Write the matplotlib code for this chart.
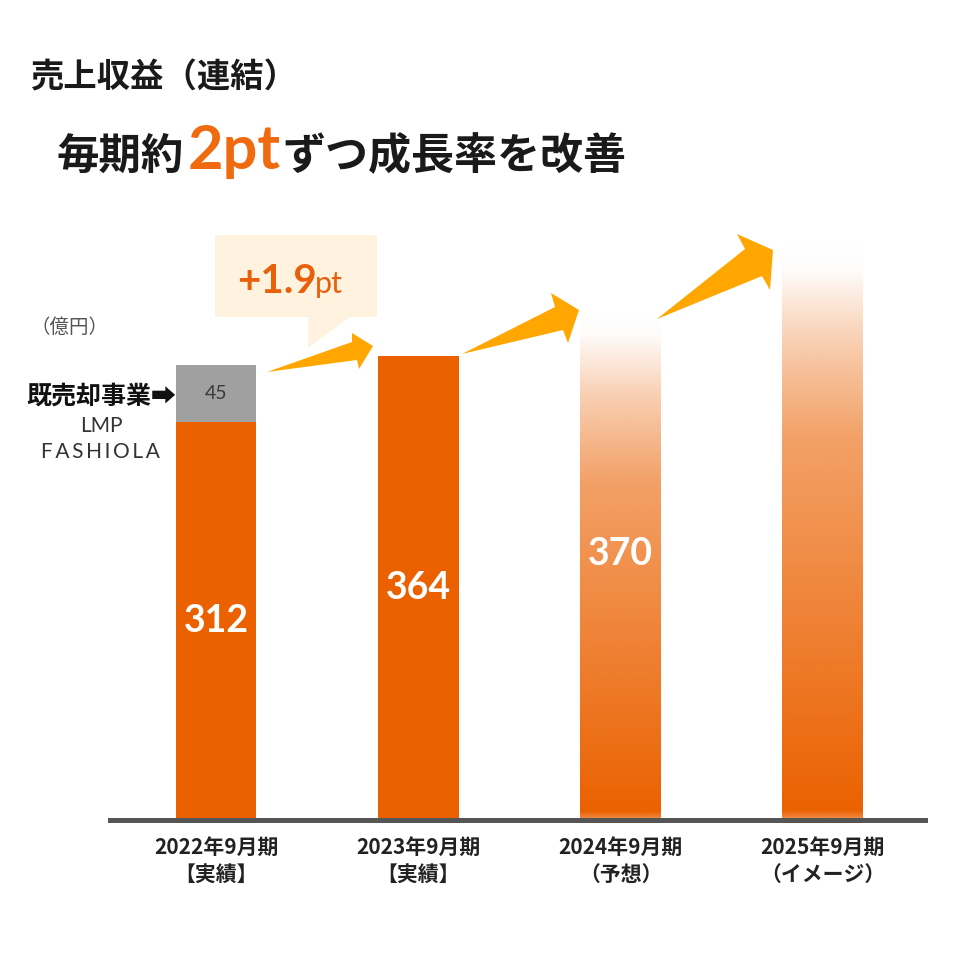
import numpy as np
import matplotlib.pyplot as plt
from matplotlib.patches import Polygon
from matplotlib.colors import to_rgb
from matplotlib.transforms import Affine2D

plt.rcParams['font.family'] = ['Noto Sans CJK JP', 'DejaVu Sans']

# データ（億円）
periods = ['2022年9月期', '2023年9月期', '2024年9月期', '2025年9月期']
period_notes = ['【実績】', '【実績】', '（予想）', '（イメージ）']
revenue = [312, 364, 370, None]
divested = [45, 0, 0, 0]
fade_top = [None, None, 402, 455]  # 予想・イメージ棒のグラデーション上端

ORANGE = '#EB6100'
GREY = '#A0A0A0'
ARROW = '#FFA700'

fig = plt.figure(figsize=(9.6, 9.6), dpi=100)
W = 960
# ピクセル座標（左上原点）
px = Affine2D().scale(1 / W, -1 / W).translate(0, 1) + fig.transFigure

ax = fig.add_axes([110 / W, 140 / W, 815 / W, 590 / W])
x = np.arange(len(periods))
bw = 0.40

# 実績の棒
for i in range(len(periods)):
    if revenue[i] is not None and fade_top[i] is None:
        ax.bar(x[i], revenue[i], width=bw, color=ORANGE, zorder=2)
        if divested[i]:
            ax.bar(x[i], divested[i], bottom=revenue[i], width=bw, color=GREY, zorder=2)
            ax.text(x[i], revenue[i] + divested[i] / 2, str(divested[i]), ha='center', va='center',
                    fontsize=14, color='#3a3a3a', family='Lato')
        ax.text(x[i], revenue[i] / 2, str(revenue[i]), ha='center', va='center',
                fontsize=27, color='white', fontweight='bold', family='Lato', zorder=5)

# 予想・イメージのグラデーション棒（上が白く抜ける）
rgb = to_rgb(ORANGE)
f = np.linspace(0, 1, 400)
alpha = np.interp(f, [0, 0.05, 0.17, 0.34, 0.985, 1.0], [0, 0.02, 0.3, 0.6, 1.0, 0.7])
for i in range(len(periods)):
    if fade_top[i] is None:
        continue
    grad = np.zeros((len(f), 1, 4))
    grad[:, 0, :3] = rgb
    grad[:, 0, 3] = alpha
    ax.imshow(grad, extent=(x[i] - bw / 2, x[i] + bw / 2, 0, fade_top[i]),
              aspect='auto', interpolation='bilinear', zorder=2)
    if revenue[i] is not None:
        ax.text(x[i], fade_top[i] * 0.52, str(revenue[i]), ha='center', va='center',
                fontsize=27, color='white', fontweight='bold', family='Lato', zorder=5)

ax.set_xlim(-0.524, 3.505)
ax.set_ylim(0, 463)
ax.set_aspect('auto')
for s in ax.spines.values():
    s.set_visible(False)
ax.axhline(0, color='#555555', lw=3.6, zorder=3, clip_on=False)
ax.set_yticks([])
ax.set_xticks(x, [f'{p}\n{n}' for p, n in zip(periods, period_notes)],
              fontsize=15, fontweight='bold', color='#222222', linespacing=1.35)
ax.tick_params(axis='x', length=0, pad=12)

# タイトル
fig.text(30, 78, '売上収益（連結）', transform=px, fontsize=24, fontweight='bold',
         color='#1a1a1a', va='center')

renderer = fig.canvas.get_renderer()


def run_text(xp, yp, parts):
    # 横に続けてテキストを配置
    for s, kw, gap in parts:
        t = fig.text(xp, yp, s, transform=px, va='baseline', ha='left', **kw)
        bb = t.get_window_extent(renderer)
        xp += bb.width + gap


run_text(57, 169, [
    ('毎期約', dict(fontsize=30.5, fontweight='bold', color='#1a1a1a'), 3),
    ('2pt', dict(fontsize=44, fontweight='bold', color='#F06A10', family='Lato'), 2),
    ('ずつ成長率を改善', dict(fontsize=31, fontweight='bold', color='#1a1a1a'), 0),
])

# 吹き出し
bubble = Polygon([(215, 235), (377, 235), (377, 317), (350, 317), (308, 348), (308, 317), (215, 317)],
                 closed=True, transform=px, facecolor='#FFF3DF', edgecolor='none')
fig.patches.append(bubble)
run_text(237, 293, [
    ('+1.9', dict(fontsize=29, fontweight='bold', color='#E8600A', family='Lato'), -2),
    ('pt', dict(fontsize=22, color='#E8600A', family='Lato'), 0),
])

# 矢印
arrows = [
    [(267, 372), (352, 342), (352, 333), (373, 346), (359, 369), (357, 360)],
    [(462, 354), (555, 307), (551, 293), (579, 310), (568, 343), (563, 330)],
    [(657, 319), (745, 249), (737, 234), (773, 250), (770, 290), (762, 276)],
]
for pts in arrows:
    fig.patches.append(Polygon(pts, closed=True, transform=px, facecolor=ARROW, edgecolor='none'))

# 注記
fig.text(30, 327, '（億円）', transform=px, fontsize=14, color='#555555', va='center')
fig.text(176, 397, '既売却事業➡', transform=px, fontsize=18, fontweight='bold', color='#111111',
         va='center', ha='right', family=['Noto Sans CJK JP', 'DejaVu Sans'])
fig.text(101, 426, 'LMP', transform=px, fontsize=15, color='#333333', va='center', ha='center',
         family='Lato')
fig.text(100, 452, 'F A S H I O L A'.replace(' ', '\u2009'), transform=px, fontsize=15,
         color='#333333', va='center', ha='center', family=['Lato', 'DejaVu Sans'])

fig.savefig('out.png', dpi=100)
